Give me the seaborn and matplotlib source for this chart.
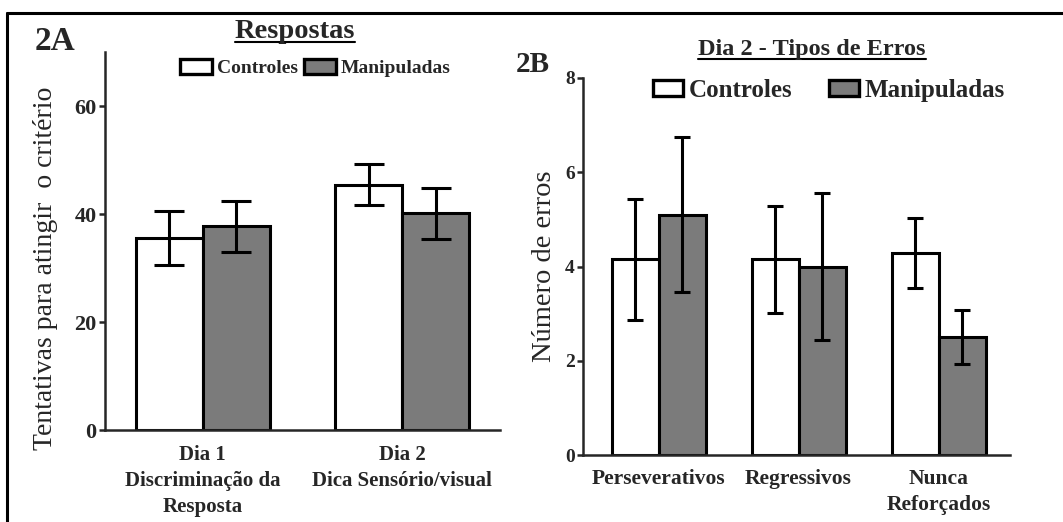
import numpy as np
import pandas as pd
import matplotlib
matplotlib.use("Agg")
import matplotlib.pyplot as plt
from matplotlib.lines import Line2D
import seaborn as sns

# ---------------- data ----------------
grupos = ["Controles", "Manipuladas"]

dias = ["Dia 1\nDiscriminação da\nResposta", "Dia 2\nDica Sensório/visual"]
resp_controles = [35.5, 45.4]
resp_controles_err = [5.0, 3.8]
resp_manipuladas = [37.7, 40.1]
resp_manipuladas_err = [4.7, 4.7]

tipos_erros = ["Perseverativos", "Regressivos", "Nunca\nReforçados"]
erros_controles = [4.15, 4.15, 4.28]
erros_controles_err = [1.28, 1.13, 0.74]
erros_manipuladas = [5.1, 4.0, 2.5]
erros_manipuladas_err = [1.65, 1.55, 0.57]

a_yticks = [0, 20, 40, 60]
b_yticks = [0, 2, 4, 6, 8]

# ---------------- style ----------------
sns.set_style("ticks")
plt.rcParams["font.family"] = ["Liberation Serif", "DejaVu Serif"]
plt.rcParams["axes.linewidth"] = 1.8

W, H = 1063, 522
fig = plt.figure(figsize=(W / 100, H / 100), dpi=100)
fig.patch.set_facecolor("white")

def fx(px):
    return px / W

def fy(py):
    return 1 - py / H

axA = fig.add_axes([fx(105), fy(430), fx(500) - fx(105), fy(52) - fy(430)])
axB = fig.add_axes([fx(583), fy(455), fx(1010) - fx(583), fy(78) - fy(455)])

palette = ["white", "#7b7b7b"]


def long_df(cats, ctrl, manip):
    return pd.DataFrame({
        "cat": list(cats) * 2,
        "valor": list(ctrl) + list(manip),
        "grupo": [grupos[0]] * len(cats) + [grupos[1]] * len(cats),
    })


def panel(ax, cats, ctrl, ctrl_err, manip, manip_err, capsize, xpad):
    df = long_df(cats, ctrl, manip)
    sns.barplot(data=df, x="cat", y="valor", hue="grupo", hue_order=grupos,
                palette=palette, edgecolor="black", linewidth=2.2,
                width=0.67, errorbar=None, ax=ax, saturation=1)
    for cont, errs in zip(ax.containers, [ctrl_err, manip_err]):
        xs = [b.get_x() + b.get_width() / 2 for b in cont]
        ys = [b.get_height() for b in cont]
        ax.errorbar(xs, ys, yerr=errs, fmt="none", ecolor="black",
                    elinewidth=2.2, capsize=capsize, capthick=2.2, zorder=3)
    sns.despine(ax=ax)
    ax.set_xlabel("")
    ax.tick_params(axis="x", length=0, pad=xpad)
    ax.tick_params(axis="y", length=4, width=1.8, direction="out", pad=2)


panel(axA, dias, resp_controles, resp_controles_err,
      resp_manipuladas, resp_manipuladas_err, capsize=11, xpad=11)
panel(axB, tipos_erros, erros_controles, erros_controles_err,
      erros_manipuladas, erros_manipuladas_err, capsize=6, xpad=10)

axA.set_ylim(0, 70)
axA.set_yticks(a_yticks)
axA.set_xlim(-0.49, 1.49)
axB.set_ylim(0, 8)
axB.set_yticks(b_yticks)
axB.set_xlim(-0.54, 2.51)

for ax, fs_x, fs_y in [(axA, 15, 16), (axB, 15.5, 14)]:
    for lab in ax.get_xticklabels():
        lab.set_fontweight("bold")
        lab.set_fontsize(fs_x)
        lab.set_linespacing(1.4)
    for lab in ax.get_yticklabels():
        lab.set_fontweight("bold")
        lab.set_fontsize(fs_y)

axA.set_ylabel("Tentativas para atingir  o critério", fontsize=20)
axA.yaxis.set_label_coords((58 - 105) / 395, (430 - 268) / 378)
axB.set_ylabel("Número de erros", fontsize=20.5)
axB.yaxis.set_label_coords((557 - 583) / 427, (455 - 266) / 377)

# legends
def style_legend(ax, anchor, fs, hl, hh, tp, cs):
    sns.move_legend(ax, "center", bbox_to_anchor=anchor, ncol=2, title=None,
                    frameon=False, fontsize=fs, handlelength=hl,
                    handleheight=hh, handletextpad=tp, columnspacing=cs,
                    borderpad=0, borderaxespad=0)
    leg = ax.get_legend()
    for h in leg.legend_handles:
        h.set_edgecolor("black")
        h.set_linewidth(2.4)
    for t in leg.get_texts():
        t.set_fontweight("bold")

style_legend(axA, (0.532, 0.958), 14, 1.65, 0.82, 0.25, 0.3)
style_legend(axB, (0.576, 0.968), 18, 1.2, 0.6, 0.2, 1.5)

# panel letters and titles
fig.text(fx(35), fy(50), "2A", fontsize=24, fontweight="bold", ha="left", va="baseline")
fig.text(fx(516), fy(72), "2B", fontsize=21, fontweight="bold", ha="left", va="baseline")
tA = fig.text(fx(295), fy(38), "Respostas", fontsize=20.5, fontweight="bold",
              ha="center", va="baseline")
tB = fig.text(fx(812), fy(55), "Dia 2 - Tipos de Erros", fontsize=17.5,
              fontweight="bold", ha="center", va="baseline")

fig.canvas.draw()
r = fig.canvas.get_renderer()
for t, uy in [(tA, 42), (tB, 59)]:
    bb = t.get_window_extent(r)
    fig.add_artist(Line2D([bb.x0 / W, bb.x1 / W], [fy(uy), fy(uy)],
                          transform=fig.transFigure, color="black", lw=1.5))

# figure frame (left and top edges visible)
fig.add_artist(Line2D([fx(7), fx(7)], [-0.01, fy(13)], transform=fig.transFigure,
                      color="black", lw=2.2))
fig.add_artist(Line2D([fx(7), 1.01], [fy(13), fy(13)], transform=fig.transFigure,
                      color="black", lw=2.2))

fig.savefig("out.png", dpi=100)
